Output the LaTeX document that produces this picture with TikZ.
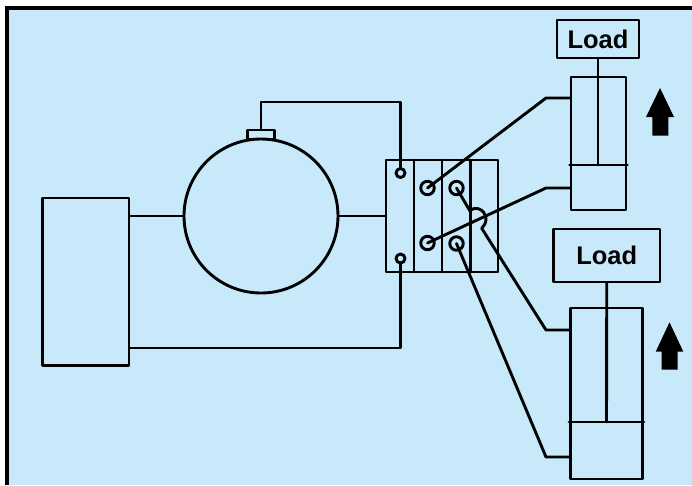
\documentclass[tikz,border=0pt]{standalone}
\usepackage{fontspec}
\setmainfont{Liberation Sans}
\definecolor{panelblue}{RGB}{199,233,250}
\tikzset{
  wire/.style={line width=2.9pt, line cap=round, line join=round},
  part/.style={draw, wire, inner sep=0pt, minimum width=#1},
  port/.style={draw, wire, circle, inner sep=0pt, minimum size=#1},
  loadtext/.style={font=\fontsize{25.5}{26}\selectfont\bfseries},
}
\begin{document}
\begin{tikzpicture}[x=1pt, y=-1pt]
  \useasboundingbox (0,0) rectangle (692,485);
  \fill[panelblue] (7,8) rectangle (692,485);
  \draw[line width=4pt] (7,485) -- (7,8) -- (692,8);

  % generator, motor and its terminal
  \node[part=86.5pt, minimum height=167.5pt] (gen) at (85.75,281.75) {};
  \node[port=154pt] (motor) at (261,216) {};
  \node[part=27.5pt, minimum height=9pt] (term) at (261,134.5) {};

  % valve block
  \node[part=112pt, minimum height=112pt] (valve) at (442,216) {};
  \draw[wire] (414,160) -- (414,272);
  \draw[wire] (442,160) -- (442,272);
  \draw[wire] (470.5,160) -- (470.5,272);
  \node[port=9pt] (portA) at (400.5,173) {};
  \node[port=9pt] (portB) at (400.5,258.5) {};
  \node[port=13.5pt] (portC) at (427.5,188) {};
  \node[port=13.5pt] (portD) at (456.5,188) {};
  \node[port=13.5pt] (portE) at (427.5,243) {};
  \node[port=13.5pt] (portF) at (456.5,243.5) {};

  % upper cylinder
  \node[part=55pt, minimum height=133pt] (cylup) at (598.5,143.5) {};
  \coordinate (pistup) at (598,165);
  \draw[wire] (cylup.west |- pistup) -- (cylup.east |- pistup);
  \node[part=82pt, minimum height=38pt, loadtext] (loadup) at (598,39) {Load};
  \draw[wire] (loadup.south) -- (pistup);

  % lower cylinder
  \node[part=72pt, minimum height=171pt] (cyllow) at (606.5,393.5) {};
  \coordinate (pistlow) at (606.5,422);
  \draw[wire] (cyllow.west |- pistlow) -- (cyllow.east |- pistlow);
  \node[part=106.5pt, minimum height=53pt, loadtext] (loadlow) at (606.75,255.5) {Load};
  \draw[wire] (loadlow.south) -- (pistlow);

  % wiring
  \coordinate (bend1) at (400.5,102);
  \coordinate (bend2) at (400.5,348);
  \draw[wire] (gen.east |- motor) -- (motor.west);
  \draw[wire] (motor.east) -- (valve.west |- motor);
  \draw[wire] (term.north) |- (bend1) -- (portA.north);
  \draw[wire] (gen.east |- bend2) -- (bend2) -- (portB.south);

  % pipes, drawn from the centre of each port
  \coordinate (kinkC) at (546,98);
  \coordinate (kinkE) at (546,188);
  \coordinate (kinkD) at (546,330);
  \coordinate (kinkF) at (546,457);
  \draw[wire] (portC.center) -- (kinkC) -- (kinkC -| cylup.west);
  \draw[wire] (portE.center) -- (kinkE) -- (kinkE -| cylup.west);
  \draw[wire] (portD.center) -- (470,211) .. controls (474,206) and (485,208) .. (486,219)
    .. controls (486,223) and (484,226) .. (481.7,228.3) -- (kinkD) -- (kinkD -| cyllow.west);
  \draw[wire] (portF.center) -- (kinkF) -- (kinkF -| cyllow.west);

  % direction arrows
  \fill (660,88) -- (674,117) -- (668.3,117) -- (668.3,135.7) -- (652.3,135.7) -- (652.3,117) -- (646,117) -- cycle;
  \fill (669.5,322.3) -- (683.3,351.7) -- (677.7,351.7) -- (677.7,369.7) -- (661.7,369.7) -- (661.7,351.7) -- (655.7,351.7) -- cycle;
\end{tikzpicture}
\end{document}
